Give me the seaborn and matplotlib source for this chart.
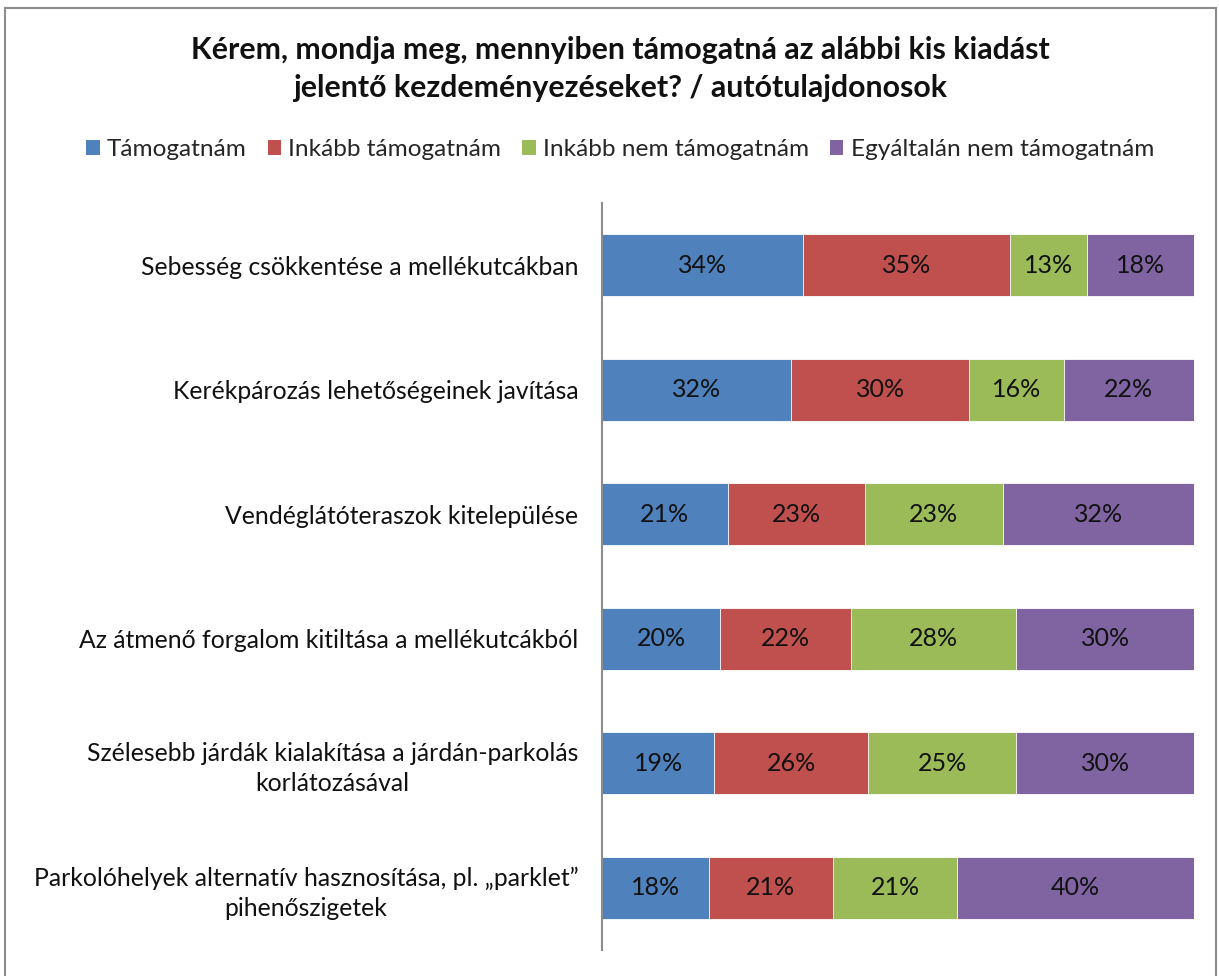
import numpy as np
import pandas as pd
import matplotlib
matplotlib.use("Agg")
import matplotlib.pyplot as plt
from matplotlib.patches import Rectangle, Patch
import seaborn as sns

categories = [
    "Sebesség csökkentése a mellékutcákban",
    "Kerékpározás lehetőségeinek javítása",
    "Vendéglátóteraszok kitelepülése",
    "Az átmenő forgalom kitiltása a mellékutcákból",
    "Szélesebb járdák kialakítása a járdán-parkolás\nkorlátozásával",
    "Parkolóhelyek alternatív hasznosítása, pl. „parklet”\npihenőszigetek",
]
series_names = ["Támogatnám", "Inkább támogatnám", "Inkább nem támogatnám", "Egyáltalán nem támogatnám"]
tamogatnam = [34, 32, 21, 20, 19, 18]
inkabb_tamogatnam = [35, 30, 23, 22, 26, 21]
inkabb_nem = [13, 16, 23, 28, 25, 21]
egyaltalan_nem = [18, 22, 32, 30, 30, 40]
colors = ["#4F81BD", "#C0504D", "#9BBB59", "#8064A2"]
title = "Kérem, mondja meg, mennyiben támogatná az alábbi kis kiadást\njelentő kezdeményezéseket? / autótulajdonosok"

sns.set_theme(style="white")
plt.rcParams["font.family"] = ["Lato", "DejaVu Sans"]

vals = np.array([tamogatnam, inkabb_tamogatnam, inkabb_nem, egyaltalan_nem], dtype=float)
shares = vals / vals.sum(axis=0) * 100  # 100% stacked
cum = np.cumsum(shares, axis=0)

W, H = 1219, 976
fig = plt.figure(figsize=(W / 100, H / 100), dpi=100)
ax = fig.add_axes([602 / W, 1 - 950 / H, (1194 - 602) / W, (950 - 203) / H])

# draw cumulative totals from the widest down so each segment shows
for i in range(3, -1, -1):
    df = pd.DataFrame({"cat": categories, "val": cum[i]})
    sns.barplot(data=df, x="val", y="cat", orient="h", color=colors[i], width=0.5,
                saturation=1, edgecolor="white", linewidth=0.6, ax=ax)

for j in range(len(categories)):
    start = 0
    for i in range(4):
        ax.text(start + shares[i, j] / 2, j, f"{int(vals[i, j])}%", ha="center", va="center",
                fontsize=18, color="#111111")
        start = cum[i, j]

ax.set_xlim(0, 100)
ax.set_ylim(5.5, -0.5)
ax.set_xlabel("")
ax.set_ylabel("")
ax.set_xticks([])
for s in ["top", "right", "bottom"]:
    ax.spines[s].set_visible(False)
ax.spines["left"].set_color("#8c8c8c")
ax.spines["left"].set_linewidth(1.5)
ax.tick_params(axis="y", length=0, pad=17)
for lbl in ax.get_yticklabels():
    lbl.set_fontsize(17.8)
    lbl.set_multialignment("center")
    lbl.set_linespacing(1.35)
    lbl.set_color("#111111")

fig.text(620 / W, 1 - 69 / H, title, ha="center", va="center", fontsize=21.8, fontweight="bold",
         color="#111111", linespacing=1.45)

handles = [Patch(facecolor=c, edgecolor="none") for c in colors]
fig.legend(handles, series_names, loc="center", bbox_to_anchor=(620 / W, 1 - 150 / H), ncol=4,
           frameon=False, fontsize=17.6, handlelength=0.55, handleheight=0.55, handletextpad=0.3,
           columnspacing=0.85)

fig.patches.append(Rectangle((5 / W, -0.05), (1216 - 5) / W, 1 - 8 / H + 0.05, transform=fig.transFigure,
                             fill=False, edgecolor="#8c8c8c", linewidth=1.5))

fig.savefig("out.png", dpi=100)
